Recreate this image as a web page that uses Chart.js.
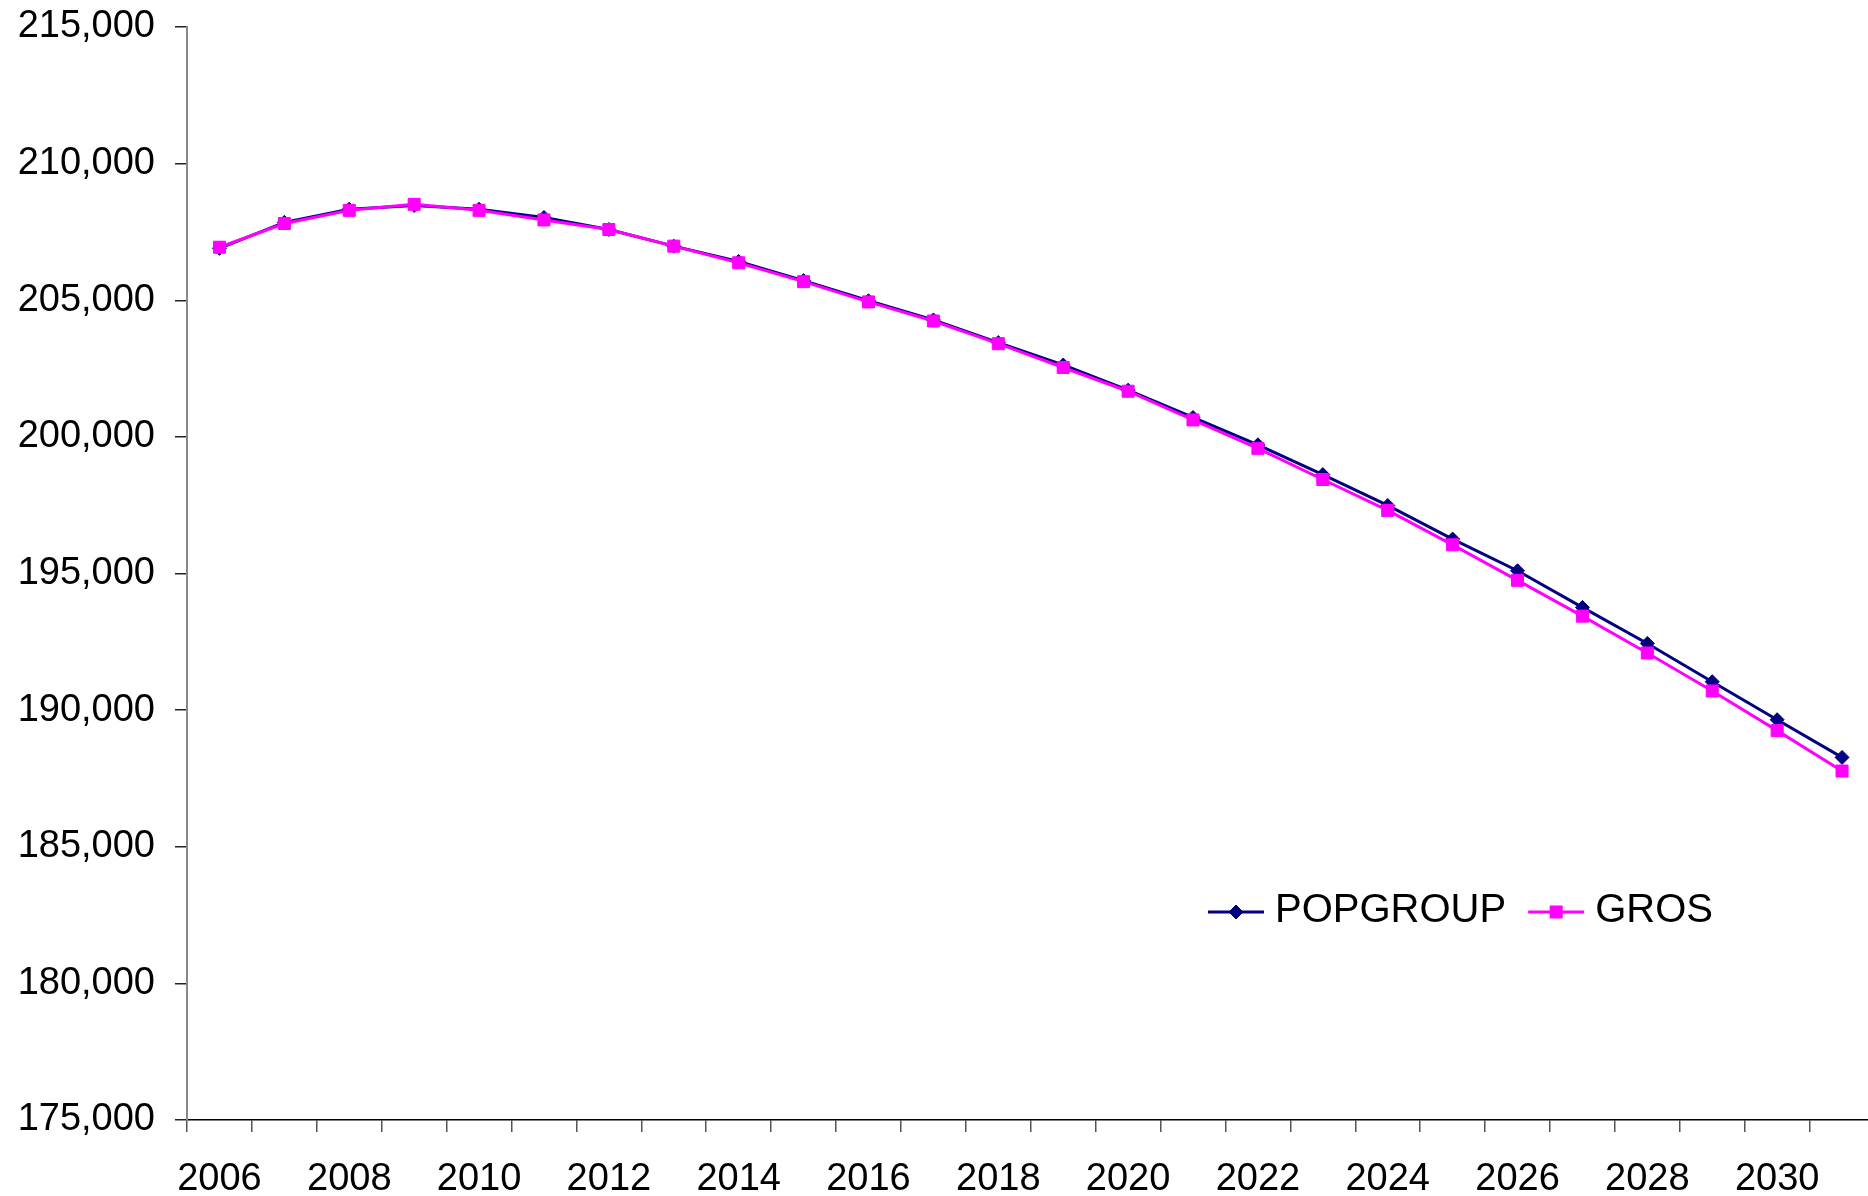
<!DOCTYPE html>
<html>
<head>
<meta charset="utf-8">
<title>POPGROUP vs GROS projection</title>
<script src="https://cdn.jsdelivr.net/npm/chart.js@4.4.0/dist/chart.umd.min.js"></script>
<style>
    html, body { margin: 0; padding: 0; background: #fff; overflow: hidden; }
    /* the plot runs a few px past the right edge, as in the original, so clip it */
    #wrap { width: 1868px; height: 1196px; overflow: hidden; }
    #chart { display: block; }
</style>
</head>
<body>
<div id="wrap"><canvas id="chart" width="1884" height="1196"></canvas></div>
<script>
var years = ["2006", "2007", "2008", "2009", "2010", "2011", "2012", "2013", "2014", "2015",
    "2016", "2017", "2018", "2019", "2020", "2021", "2022", "2023", "2024", "2025",
    "2026", "2027", "2028", "2029", "2030", "2031"];

var popgroup = [206900, 207850, 208330, 208470, 208330, 208030, 207590, 206980, 206420, 205720,
    204980, 204280, 203450, 202630, 201710, 200710, 199710, 198620, 197490, 196260,
    195100, 193760, 192440, 191040, 189650, 188270];

var gros = [206940, 207810, 208290, 208510, 208290, 207940, 207590, 206980, 206370, 205680,
    204940, 204240, 203410, 202540, 201670, 200620, 199580, 198440, 197310, 196050,
    194750, 193440, 192090, 190700, 189250, 187770];

var yMin = 175000;
var yMax = 215000;
var yStep = 5000;

var FONT = "'Liberation Sans', Arial, sans-serif";

// legend sits inside the plot area, lower right, like the original
var insideLegend = {
    id: "insideLegend",
    afterDraw: function (chart) {
        var ctx = chart.ctx;
        var x = 1208;
        var y = 912;
        var lineLen = 56;
        ctx.save();
        ctx.font = "40px " + FONT;
        ctx.textBaseline = "middle";
        ctx.textAlign = "left";
        for (var i = 0; i < chart.data.datasets.length; i++) {
            var ds = chart.data.datasets[i];
            ctx.strokeStyle = ds.borderColor;
            ctx.lineWidth = ds.borderWidth;
            ctx.beginPath();
            ctx.moveTo(x, y);
            ctx.lineTo(x + lineLen, y);
            ctx.stroke();
            ctx.fillStyle = ds.pointBackgroundColor;
            ctx.strokeStyle = ds.pointBorderColor;
            ctx.lineWidth = ds.pointBorderWidth;
            Chart.helpers.drawPoint(ctx, {
                pointStyle: ds.pointStyle,
                radius: ds.pointRadius,
                rotation: 0,
                borderWidth: ds.pointBorderWidth
            }, x + lineLen / 2, y);
            ctx.fillStyle = "#000";
            ctx.fillText(ds.label, x + lineLen + 11, y - 1);
            x = x + lineLen + 11 + ctx.measureText(ds.label).width + 22;
        }
        ctx.restore();
    }
};

var ctx = document.getElementById("chart").getContext("2d");
var chart = new Chart(ctx, {
    type: "line",
    data: {
        labels: years,
        datasets: [
            {
                label: "POPGROUP",
                data: popgroup,
                borderColor: "#000080",
                borderWidth: 3,
                pointStyle: "rectRot",
                pointRadius: 7,
                pointBackgroundColor: "#000080",
                pointBorderColor: "#000080",
                pointBorderWidth: 1,
                tension: 0,
                order: 1
            },
            {
                label: "GROS",
                data: gros,
                borderColor: "#ff00ff",
                borderWidth: 3,
                pointStyle: "rect",
                pointRadius: 8.5,
                pointBackgroundColor: "#ff00ff",
                pointBorderColor: "#ff00ff",
                pointBorderWidth: 1,
                tension: 0,
                order: 0
            }
        ]
    },
    options: {
        responsive: false,
        animation: false,
        layout: {
            padding: { top: 27, right: 1, bottom: 0, left: 0 }
        },
        plugins: {
            legend: { display: false },
            tooltip: { enabled: false }
        },
        scales: {
            x: {
                offset: true,
                grid: {
                    offset: true,
                    drawOnChartArea: false,
                    drawTicks: true,
                    tickLength: 12,
                    tickColor: "#555",
                    lineWidth: 1.5
                },
                border: { display: true, color: "#000", width: 1.5 },
                ticks: {
                    autoSkip: false,
                    maxRotation: 0,
                    padding: 25,
                    color: "#000",
                    font: { family: FONT, size: 38 },
                    callback: function (value, index) {
                        return index % 2 === 0 ? years[index] : "";
                    }
                },
                afterFit: function (scale) {
                    scale.height = 76;
                    // labels sit inside the category slots, no side padding needed
                    scale.paddingLeft = 0;
                    scale.paddingRight = 0;
                }
            },
            y: {
                min: yMin,
                max: yMax,
                grid: {
                    drawOnChartArea: false,
                    drawTicks: true,
                    tickLength: 12,
                    tickColor: "#222",
                    lineWidth: 1.5
                },
                border: { display: true, color: "#888", width: 2 },
                ticks: {
                    stepSize: yStep,
                    padding: 20,
                    color: "#000",
                    font: { family: FONT, size: 38 },
                    callback: function (value) {
                        return value.toLocaleString("en-US");
                    }
                },
                afterFit: function (scale) {
                    scale.width = 187;
                    // tick padding would otherwise push the plot top down
                    scale.paddingTop = 22;
                    scale.paddingBottom = 22;
                }
            }
        }
    },
    plugins: [insideLegend]
});
</script>
</body>
</html>
